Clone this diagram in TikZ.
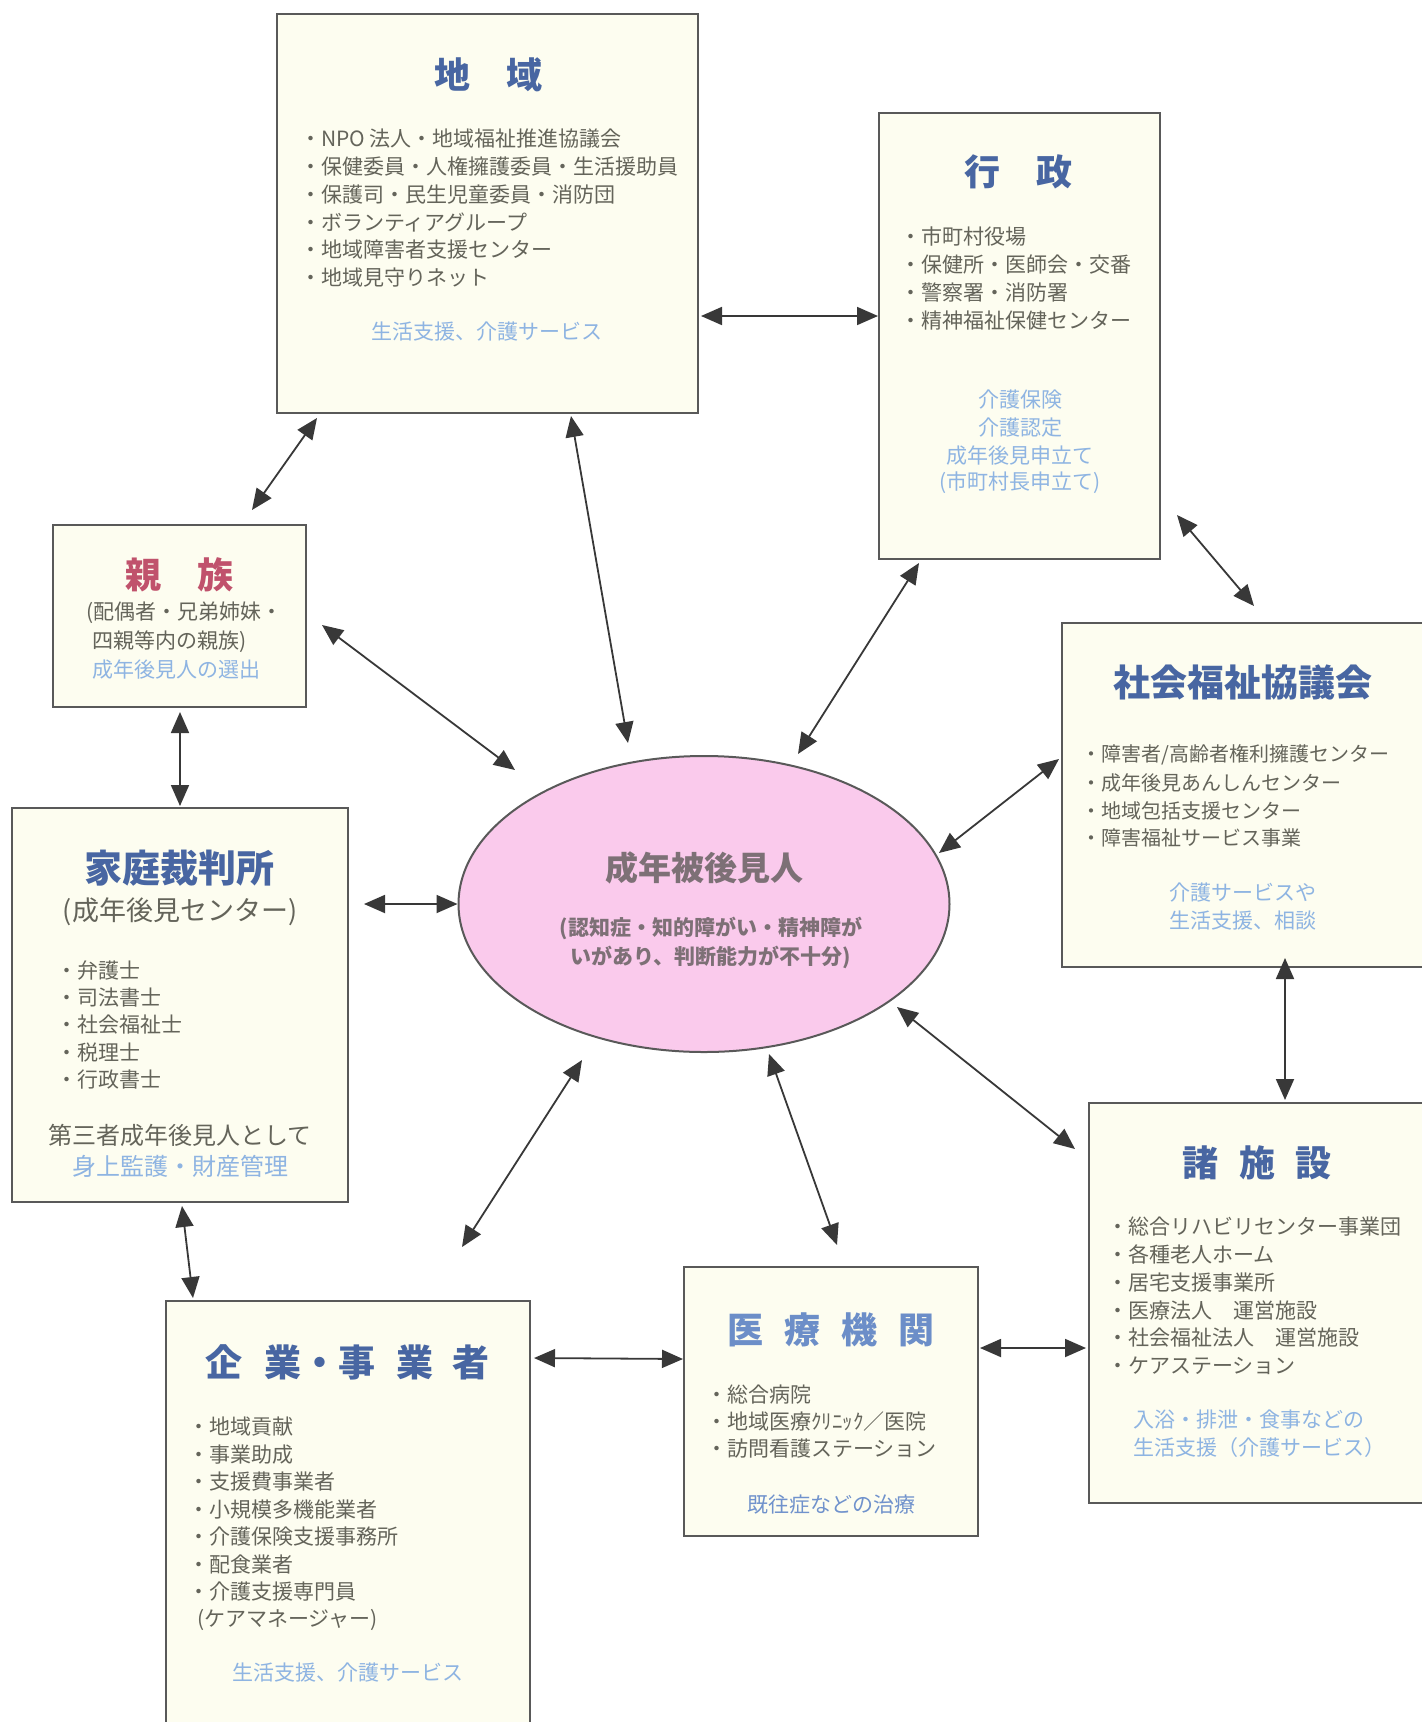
\documentclass[tikz,border=0pt]{standalone}
\usepackage{fontspec}
\setmainfont{Noto Sans CJK JP}
\usetikzlibrary{calc, arrows.meta, shapes.geometric}
\definecolor{boxFill}{RGB}{253,253,240}
\definecolor{boxLine}{gray}{0.35}
\definecolor{mainGray}{RGB}{100,100,90}
\definecolor{titleBlue}{RGB}{72,102,162}
\definecolor{titleRed}{RGB}{192,82,108}
\definecolor{lightBlue}{RGB}{142,180,226}
\definecolor{noteBlue}{RGB}{112,146,204}
\definecolor{personPink}{RGB}{250,202,236}
\definecolor{personGray}{RGB}{125,112,118}
\definecolor{arrowGray}{gray}{0.22}
\begin{document}
\begin{tikzpicture}[x=1pt, y=-1pt,
    box/.style={draw=boxLine, line width=2pt, fill=boxFill, inner sep=0pt},
    title/.style={font=\fontsize{36}{40}\selectfont\bfseries, text=titleBlue, inner sep=0pt},
    items/.style={font=\fontsize{21}{28}\selectfont, text=mainGray, anchor=west, inner sep=0pt},
    note/.style={font=\fontsize{21}{28}\selectfont, text=lightBlue, inner sep=0pt},
    link/.style={{Triangle[length=21pt, width=18pt]}-{Triangle[length=21pt, width=18pt]}, line width=1.8pt, arrowGray}]
    \fill[white] (0,0) rectangle (1422,1722);
    \clip (0,0) rectangle (1422,1722);

    % boxes
    \node[box, minimum width=421pt, minimum height=399pt] (chiiki) at (487.5,213.5) {};
    \node[box, minimum width=281pt, minimum height=446pt] (gyosei) at (1019.5,336) {};
    \node[box, minimum width=253pt, minimum height=182pt] (shinzoku) at (179.5,616) {};
    \node[box, minimum width=364pt, minimum height=344pt] (shakyo) at (1244,795) {};
    \node[box, minimum width=336pt, minimum height=394pt] (saibansho) at (180,1005) {};
    \node[box, minimum width=337pt, minimum height=400pt] (shisetsu) at (1257.5,1303) {};
    \node[box, minimum width=294pt, minimum height=269pt] (iryo) at (831,1401.5) {};
    \node[box, minimum width=364pt, minimum height=444pt] (kigyo) at (348,1523) {};
    \node[draw=boxLine, line width=2pt, fill=personPink, ellipse, inner sep=0pt,
          minimum width=491pt, minimum height=296pt] (person) at (704,904) {};

    % 地域
    \node[title] (chiiki-t) at (488,75) {地　域};
    \foreach \t [count=\i from 0] in {NPO 法人・地域福祉推進協議会, 保健委員・人権擁護委員・生活援助員,
        保護司・民生児童委員・消防団, ボランティアグループ, 地域障害者支援センター, 地域見守りネット}
      \node[items] (chiiki-\i) at (300,{139+27.7*\i}) {・\t};
    \node[note] (chiiki-n) at (487,332) {生活支援、介護サービス};

    % 行政
    \node[title] (gyosei-t) at (1018,172) {行　政};
    \foreach \t [count=\i from 0] in {市町村役場, 保健所・医師会・交番, 警察署・消防署, 精神福祉保健センター}
      \node[items] (gyosei-\i) at (900,{237+27.7*\i}) {・\t};
    \foreach \t [count=\i from 0] in {介護保険, 介護認定, 成年後見申立て, (市町村長申立て)}
      \node[note] (gyosei-n\i) at (1020,{400+27.7*\i}) {\t};

    % 親族
    \node[title, text=titleRed] (shinzoku-t) at (179,575) {親　族};
    \node[items] (shinzoku-a) at (86,613) {(配偶者・兄弟姉妹・};
    \node[items] (shinzoku-b) at (92,642) {四親等内の親族)};
    \node[note, anchor=west] (shinzoku-n) at (92,670) {成年後見人の選出};

    % 社会福祉協議会
    \node[title, font=\fontsize{37}{40}\selectfont\bfseries] (shakyo-t) at (1243,682) {社会福祉協議会};
    \foreach \t [count=\i from 0] in {障害者/高齢者権利擁護センター, 成年後見あんしんセンター,
        地域包括支援センター, 障害福祉サービス事業}
      \node[items, font=\fontsize{20}{28}\selectfont] (shakyo-\i) at (1081,{755+27.7*\i}) {・\t};
    \node[note] (shakyo-n0) at (1243,893) {介護サービスや};
    \node[note] (shakyo-n1) at (1243,921) {生活支援、相談};

    % 家庭裁判所
    \node[title, font=\fontsize{38}{40}\selectfont\bfseries] (saibansho-t) at (179,868) {家庭裁判所};
    \node[items, anchor=center, font=\fontsize{27}{30}\selectfont] (saibansho-s) at (180,912) {(成年後見センター)};
    \foreach \t [count=\i from 0] in {弁護士, 司法書士, 社会福祉士, 税理士, 行政書士}
      \node[items] (saibansho-\i) at (56,{970+27.5*\i}) {・\t};
    \node[items, anchor=center, font=\fontsize{24}{28}\selectfont] (saibansho-a) at (180,1135) {第三者成年後見人として};
    \node[note, font=\fontsize{24}{28}\selectfont] (saibansho-n) at (180,1166) {身上監護・財産管理};

    % 成年被後見人
    \node[font=\fontsize{33}{36}\selectfont\bfseries, text=personGray, inner sep=0pt] (person-t) at (704,868) {成年被後見人};
    \node[font=\fontsize{21}{28}\selectfont\bfseries, text=personGray, inner sep=0pt] (person-a) at (711,928) {(認知症・知的障がい・精神障が};
    \node[font=\fontsize{21}{28}\selectfont\bfseries, text=personGray, inner sep=0pt] (person-b) at (711,957) {いがあり、判断能力が不十分)};

    % 諸施設
    \node[title] (shisetsu-t) at (1257,1163) {諸\hspace{.58em}施\hspace{.58em}設};
    \foreach \t [count=\i from 0] in {総合リハビリセンター事業団, 各種老人ホーム, 居宅支援事業所,
        医療法人　運営施設, 社会福祉法人　運営施設, ケアステーション}
      \node[items] (shisetsu-\i) at (1107,{1227+27.7*\i}) {・\t};
    \node[note, anchor=west] (shisetsu-n0) at (1133,1420) {入浴・排泄・食事などの};
    \node[note, anchor=west] (shisetsu-n1) at (1133,1448) {生活支援（介護サービス）};

    % 医療機関
    \node[title, text=noteBlue!90!titleBlue] (iryo-t) at (831,1330) {医\hspace{.58em}療\hspace{.58em}機\hspace{.58em}関};
    \foreach \t [count=\i from 0] in {総合病院, 地域医療ｸﾘﾆｯｸ／医院, 訪問看護ステーション}
      \node[items] (iryo-\i) at (706,{1395+26.7*\i}) {・\t};
    \node[note, text=noteBlue] (iryo-n) at (831,1505) {既往症などの治療};

    % 企業・事業者
    \node[title, font=\fontsize{37}{40}\selectfont\bfseries] (kigyo-t) at (347.5,1362) {企\hspace{.58em}業・事\hspace{.58em}業\hspace{.5em}者};
    \foreach \t [count=\i from 0] in {地域貢献, 事業助成, 支援費事業者, 小規模多機能業者,
        介護保険支援事務所, 配食業者, 介護支援専門員}
      \node[items] (kigyo-\i) at (188,{1427+27.5*\i}) {・\t};
    \node[items] (kigyo-c) at (197,1620) {(ケアマネージャー)};
    \node[note] (kigyo-n) at (347.5,1673) {生活支援、介護サービス};

    % connectors
    \draw[link] ($(chiiki.east)+(2,102.5)$) -- ($(gyosei.west)+(0,-20)$);
    \draw[link] ($(chiiki.south west)+(41,4)$) -- ($(shinzoku.north west)+(200,-14)$);
    \draw[link] ($(chiiki.south west)+(295,2)$) -- ($(person.center)+(-76,-161)$);
    \draw[link] ($(gyosei.south west)+(41,3)$) -- ($(person.center)+(94,-150)$);
    \draw[link] ($(gyosei.south east)+(16,-45)$) -- ($(shakyo.north west)+(193,-16)$);
    \draw[link] ($(shinzoku.east)+(15,9)$) -- ($(person.center)+(-189,-134)$);
    \draw[link] ($(shinzoku.south)+(0.5,4)$) -- ($(saibansho.north)+(0,-1)$);
    \draw[link] ($(saibansho.east)+(15,-101)$) -- (person.west);
    \draw[link] ($(shakyo.west)+(-2,-36)$) -- ($(person.center)+(235,-51)$);
    \draw[link] ($(shakyo.south)+(41,-10)$) -- ($(shisetsu.north)+(27.5,-2)$);
    \draw[link] ($(person.center)+(193,103)$) -- ($(shisetsu.north west)+(-13,47)$);
    \draw[link] ($(person.center)+(65,150)$) -- ($(iryo.north)+(6,-21)$);
    \draw[link] ($(person.center)+(-122,156)$) -- ($(kigyo.north west)+(297,-53)$);
    \draw[link] ($(saibansho.south)+(2,3)$) -- ($(kigyo.north west)+(28,-2)$);
    \draw[link] ($(kigyo.north east)+(3,58)$) -- ($(iryo.west)+(0,-42.5)$);
    \draw[link] ($(iryo.east)+(1,-53.5)$) -- ($(shisetsu.west)+(-2,45)$);
\end{tikzpicture}
\end{document}
